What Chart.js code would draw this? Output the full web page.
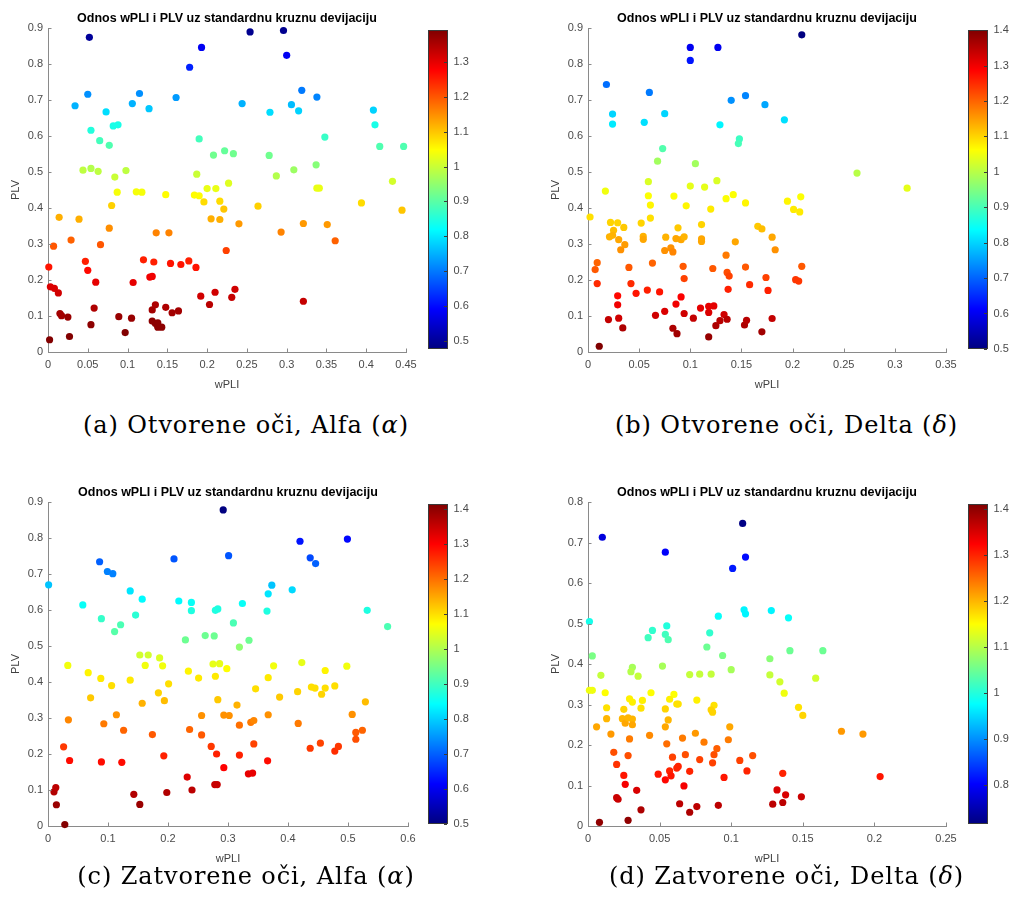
<!DOCTYPE html>
<html><head><meta charset="utf-8">
<script src="https://cdn.jsdelivr.net/npm/chart.js"></script>
<style>
html,body{margin:0;padding:0;background:#fff;}
body{width:1009px;height:911px;position:relative;overflow:hidden;}
canvas{position:absolute;}
.cap{position:absolute;font-family:"DejaVu Serif",serif;font-size:24px;line-height:24px;letter-spacing:0.9px;color:#000;white-space:nowrap;transform:translateX(-50%);}
.cap i{font-style:italic;}
</style></head><body>
<script>
// ---------- data ----------
const TITLE = 'Odnos wPLI i PLV uz standardnu kruznu devijaciju';
const X_LABEL = 'wPLI';
const Y_LABEL = 'PLV';
const captions = ['(a) Otvorene oči, Alfa (<i>α</i>)', '(b) Otvorene oči, Delta (<i>δ</i>)',
                  '(c) Zatvorene oči, Alfa (<i>α</i>)', '(d) Zatvorene oči, Delta (<i>δ</i>)'];
const xMaxs = [0.45, 0.35, 0.6, 0.25];
const xSteps = [0.05, 0.05, 0.1, 0.05];
const yMaxs = [0.9, 0.9, 0.9, 0.8];
const cMins = [0.476, 0.5, 0.5, 0.716];
const cMaxs = [1.392, 1.4, 1.414, 1.411];

// (a) Otvorene oci, Alfa
const aX = [0.052,0.193,0.178,0.050,0.034,0.106,0.115,0.127,0.161,0.073,
0.054,0.082,0.088,0.065,0.077,0.190,0.208,0.222,0.233,0.044,
0.054,0.063,0.084,0.098,0.187,0.227,0.087,0.111,0.118,0.148,
0.184,0.190,0.200,0.211,0.196,0.216,0.221,0.080,0.014,0.039,
0.205,0.216,0.240,0.077,0.136,0.152,0.007,0.029,0.066,0.224,
0.001,0.047,0.050,0.120,0.133,0.154,0.167,0.177,0.186,0.128,
0.131,0.107,0.060,0.003,0.008,0.013,0.192,0.210,0.203,0.231,
0.235,0.015,0.017,0.025,0.058,0.054,0.027,0.002,0.089,0.105,
0.097,0.131,0.135,0.131,0.135,0.138,0.143,0.138,0.148,0.156,
0.164,0.254,0.296,0.300,0.319,0.338,0.244,0.279,0.306,0.315,
0.409,0.411,0.348,0.417,0.447,0.278,0.337,0.309,0.287,0.433,
0.338,0.341,0.264,0.394,0.445,0.321,0.351,0.293,0.361,0.321];
const aY = [0.874,0.846,0.791,0.716,0.684,0.690,0.718,0.676,0.707,0.667,
0.616,0.628,0.631,0.587,0.574,0.592,0.547,0.559,0.551,0.505,
0.510,0.502,0.486,0.504,0.494,0.469,0.444,0.445,0.444,0.437,
0.436,0.434,0.454,0.454,0.417,0.419,0.397,0.407,0.374,0.369,
0.370,0.368,0.356,0.344,0.331,0.331,0.294,0.311,0.298,0.282,
0.236,0.252,0.227,0.256,0.250,0.246,0.243,0.253,0.235,0.208,
0.210,0.193,0.194,0.181,0.177,0.164,0.155,0.166,0.132,0.152,
0.174,0.107,0.101,0.097,0.122,0.076,0.043,0.034,0.098,0.094,
0.054,0.117,0.131,0.086,0.079,0.069,0.069,0.081,0.124,0.109,
0.114,0.889,0.893,0.824,0.727,0.708,0.690,0.666,0.687,0.670,
0.672,0.631,0.597,0.571,0.571,0.546,0.520,0.506,0.489,0.474,
0.455,0.455,0.405,0.414,0.394,0.357,0.354,0.333,0.309,0.141];
const aC = [0.50,0.58,0.62,0.72,0.75,0.75,0.72,0.77,0.73,0.79,
0.85,0.84,0.84,0.88,0.89,0.88,0.92,0.91,0.92,0.99,
0.98,0.99,1.00,0.99,1.00,1.02,1.04,1.04,1.04,1.05,
1.05,1.05,1.03,1.03,1.08,1.08,1.10,1.09,1.12,1.12,
1.12,1.12,1.14,1.15,1.16,1.16,1.20,1.19,1.20,1.22,
1.26,1.25,1.27,1.25,1.25,1.26,1.26,1.25,1.26,1.29,
1.29,1.30,1.30,1.31,1.31,1.32,1.32,1.32,1.34,1.33,
1.32,1.36,1.36,1.37,1.35,1.38,1.39,1.39,1.37,1.37,
1.39,1.36,1.35,1.38,1.38,1.38,1.38,1.38,1.35,1.36,
1.36,0.49,0.49,0.58,0.70,0.71,0.75,0.79,0.76,0.78,
0.78,0.84,0.87,0.89,0.89,0.92,0.94,0.96,0.98,1.01,
1.03,1.03,1.09,1.08,1.10,1.14,1.14,1.16,1.19,1.33];

// (b) Otvorene oci, Delta
const bX = [0.100,0.127,0.100,0.018,0.060,0.140,0.154,0.173,0.024,0.024,
0.055,0.075,0.129,0.073,0.148,0.147,0.068,0.105,0.017,0.059,
0.059,0.061,0.061,0.084,0.100,0.096,0.114,0.126,0.120,0.135,
0.142,0.154,0.002,0.022,0.029,0.021,0.025,0.024,0.030,0.035,
0.032,0.036,0.052,0.054,0.054,0.076,0.075,0.081,0.083,0.086,
0.088,0.091,0.094,0.111,0.111,0.111,0.144,0.166,0.170,0.180,
0.183,0.009,0.007,0.009,0.040,0.042,0.047,0.063,0.058,0.070,
0.093,0.094,0.122,0.135,0.136,0.138,0.137,0.154,0.158,0.174,
0.176,0.029,0.029,0.020,0.030,0.034,0.011,0.066,0.075,0.086,
0.091,0.083,0.087,0.094,0.103,0.110,0.118,0.118,0.123,0.125,
0.129,0.133,0.136,0.118,0.153,0.155,0.170,0.180,0.209,0.192,
0.263,0.312,0.195,0.208,0.201,0.207,0.209,0.203,0.206];
const bY = [0.846,0.846,0.810,0.743,0.721,0.699,0.712,0.687,0.661,0.633,
0.638,0.662,0.631,0.565,0.592,0.579,0.530,0.523,0.447,0.473,
0.434,0.408,0.372,0.433,0.461,0.406,0.458,0.476,0.397,0.426,
0.437,0.414,0.375,0.360,0.359,0.320,0.338,0.324,0.312,0.346,
0.284,0.298,0.358,0.321,0.313,0.319,0.282,0.289,0.278,0.315,
0.345,0.312,0.320,0.354,0.314,0.307,0.306,0.349,0.342,0.319,
0.284,0.248,0.229,0.190,0.235,0.190,0.163,0.247,0.172,0.167,
0.238,0.204,0.232,0.269,0.221,0.211,0.174,0.236,0.187,0.207,
0.171,0.156,0.131,0.090,0.094,0.067,0.016,0.102,0.113,0.133,
0.153,0.066,0.051,0.107,0.094,0.122,0.110,0.127,0.128,0.073,
0.087,0.104,0.091,0.042,0.075,0.088,0.056,0.093,0.881,0.645,
0.497,0.455,0.419,0.431,0.396,0.389,0.238,0.201,0.197];
const bC = [0.60,0.60,0.63,0.71,0.72,0.74,0.73,0.76,0.80,0.82,
0.81,0.80,0.83,0.91,0.89,0.90,0.98,0.98,1.05,1.03,
1.06,1.07,1.09,1.06,1.04,1.07,1.04,1.03,1.08,1.06,
1.06,1.07,1.09,1.10,1.10,1.13,1.12,1.13,1.14,1.11,
1.16,1.15,1.10,1.13,1.14,1.13,1.16,1.16,1.17,1.14,
1.11,1.14,1.13,1.10,1.14,1.14,1.14,1.11,1.12,1.14,
1.16,1.20,1.21,1.25,1.21,1.25,1.27,1.20,1.26,1.27,
1.21,1.23,1.21,1.18,1.22,1.23,1.26,1.21,1.25,1.23,
1.26,1.28,1.30,1.34,1.33,1.36,1.40,1.33,1.32,1.30,
1.29,1.36,1.37,1.33,1.34,1.31,1.32,1.31,1.31,1.36,
1.35,1.33,1.35,1.38,1.36,1.35,1.37,1.34,0.50,0.81,
1.00,1.04,1.07,1.06,1.08,1.08,1.21,1.24,1.24];

// (c) Zatvorene oci, Alfa
const cX = [0.292,0.301,0.210,0.086,0.099,0.108,0.001,0.137,0.157,0.058,
0.218,0.239,0.239,0.279,0.283,0.089,0.146,0.121,0.111,0.229,
0.262,0.277,0.309,0.319,0.033,0.067,0.088,0.106,0.137,0.153,
0.167,0.162,0.186,0.191,0.201,0.234,0.251,0.275,0.279,0.286,
0.298,0.071,0.157,0.184,0.194,0.283,0.034,0.093,0.114,0.126,
0.174,0.236,0.256,0.256,0.293,0.302,0.315,0.319,0.026,0.036,
0.089,0.123,0.193,0.272,0.281,0.319,0.293,0.232,0.240,0.278,
0.282,0.198,0.143,0.153,0.010,0.013,0.014,0.028,0.499,0.420,
0.437,0.446,0.373,0.367,0.407,0.324,0.365,0.532,0.566,0.335,
0.376,0.423,0.462,0.498,0.367,0.346,0.416,0.439,0.445,0.462,
0.456,0.478,0.386,0.529,0.367,0.338,0.343,0.417,0.507,0.524,
0.513,0.513,0.343,0.366,0.437,0.454,0.478,0.484,0.334,0.341];
const cY = [0.878,0.751,0.742,0.734,0.707,0.701,0.670,0.653,0.630,0.614,
0.625,0.621,0.598,0.599,0.603,0.576,0.586,0.559,0.540,0.517,
0.529,0.528,0.564,0.497,0.446,0.426,0.410,0.390,0.405,0.475,
0.475,0.446,0.467,0.445,0.395,0.430,0.411,0.450,0.416,0.451,
0.437,0.356,0.341,0.370,0.348,0.351,0.295,0.284,0.309,0.266,
0.254,0.268,0.307,0.253,0.308,0.307,0.336,0.280,0.220,0.182,
0.178,0.177,0.195,0.221,0.200,0.197,0.162,0.136,0.100,0.115,
0.115,0.093,0.088,0.060,0.095,0.107,0.059,0.004,0.797,0.791,
0.745,0.729,0.669,0.645,0.656,0.618,0.597,0.599,0.554,0.516,
0.445,0.454,0.432,0.444,0.412,0.381,0.373,0.386,0.383,0.383,
0.366,0.389,0.358,0.345,0.309,0.288,0.293,0.285,0.310,0.266,
0.260,0.241,0.228,0.181,0.216,0.230,0.208,0.221,0.145,0.147];
const cC = [0.50,0.69,0.69,0.70,0.73,0.73,0.79,0.82,0.84,0.85,
0.84,0.85,0.87,0.87,0.87,0.89,0.88,0.91,0.92,0.94,
0.94,0.94,0.91,0.97,1.06,1.08,1.09,1.10,1.09,1.03,
1.03,1.06,1.04,1.06,1.10,1.08,1.09,1.05,1.09,1.05,
1.07,1.12,1.14,1.11,1.13,1.12,1.18,1.19,1.17,1.21,
1.22,1.21,1.17,1.22,1.17,1.17,1.14,1.20,1.25,1.29,
1.29,1.29,1.27,1.25,1.27,1.27,1.30,1.33,1.36,1.35,
1.35,1.37,1.37,1.39,1.37,1.36,1.39,1.41,0.62,0.63,
0.68,0.70,0.79,0.82,0.81,0.85,0.87,0.87,0.91,0.94,
1.06,1.05,1.08,1.06,1.09,1.10,1.11,1.10,1.10,1.10,
1.11,1.10,1.12,1.13,1.17,1.19,1.18,1.19,1.17,1.21,
1.22,1.23,1.24,1.29,1.25,1.24,1.26,1.25,1.32,1.32];

// (d) Zatvorene oci, Delta
const dX = [0.108,0.010,0.054,0.110,0.101,0.001,0.109,0.110,0.128,0.091,
0.045,0.042,0.055,0.054,0.056,0.085,0.083,0.003,0.094,0.100,
0.052,0.031,0.030,0.035,0.009,0.071,0.078,0.086,0.127,0.127,
0.001,0.003,0.012,0.044,0.060,0.057,0.013,0.029,0.031,0.038,
0.037,0.062,0.063,0.076,0.088,0.086,0.087,0.013,0.025,0.024,
0.026,0.028,0.031,0.031,0.006,0.054,0.056,0.054,0.099,0.016,
0.029,0.043,0.066,0.075,0.081,0.098,0.018,0.028,0.055,0.059,
0.068,0.078,0.088,0.090,0.087,0.106,0.115,0.111,0.020,0.025,
0.026,0.049,0.054,0.057,0.058,0.062,0.063,0.071,0.067,0.095,
0.020,0.021,0.034,0.037,0.028,0.008,0.064,0.071,0.076,0.091,
0.129,0.132,0.140,0.141,0.164,0.134,0.137,0.159,0.147,0.150,
0.177,0.192,0.136,0.204,0.138,0.136,0.149];
const dY = [0.747,0.713,0.676,0.664,0.636,0.505,0.534,0.524,0.532,0.518,
0.483,0.465,0.494,0.473,0.460,0.477,0.442,0.420,0.421,0.386,
0.395,0.392,0.381,0.370,0.372,0.374,0.375,0.375,0.373,0.413,
0.335,0.335,0.329,0.329,0.325,0.313,0.292,0.314,0.306,0.310,
0.291,0.301,0.301,0.311,0.298,0.287,0.281,0.265,0.288,0.265,
0.254,0.267,0.264,0.250,0.245,0.289,0.262,0.245,0.245,0.227,
0.215,0.224,0.217,0.229,0.207,0.213,0.182,0.174,0.203,0.170,
0.176,0.164,0.176,0.191,0.156,0.162,0.174,0.136,0.152,0.125,
0.103,0.128,0.114,0.136,0.124,0.143,0.147,0.135,0.099,0.120,
0.070,0.066,0.088,0.040,0.014,0.009,0.055,0.034,0.048,0.051,
0.054,0.089,0.514,0.433,0.433,0.356,0.328,0.365,0.293,0.273,
0.234,0.227,0.130,0.122,0.077,0.058,0.072];
const dC = [0.72,0.78,0.80,0.81,0.82,0.99,0.97,0.97,0.97,0.98,
1.01,1.02,1.00,1.02,1.03,1.01,1.05,1.06,1.06,1.09,
1.09,1.09,1.10,1.11,1.11,1.11,1.11,1.11,1.11,1.07,
1.14,1.14,1.15,1.15,1.15,1.16,1.17,1.16,1.16,1.16,
1.17,1.17,1.17,1.16,1.17,1.18,1.18,1.20,1.18,1.20,
1.21,1.20,1.20,1.21,1.21,1.18,1.20,1.21,1.21,1.22,
1.24,1.23,1.24,1.22,1.24,1.24,1.27,1.27,1.25,1.28,
1.27,1.28,1.27,1.26,1.28,1.28,1.27,1.30,1.29,1.31,
1.33,1.31,1.32,1.30,1.31,1.30,1.30,1.30,1.33,1.31,
1.36,1.36,1.35,1.38,1.40,1.40,1.37,1.38,1.37,1.37,
1.37,1.35,0.98,1.05,1.05,1.12,1.14,1.12,1.17,1.18,
1.22,1.22,1.30,1.31,1.35,1.37,1.36];

// ---------- layout / style ----------
const FONT = '"Liberation Sans", Arial, Helvetica, sans-serif';
const TICKC = '#4a4a4a', AXC = '#8a8a8a', LABC = '#404040';
const TSIZE = 12.5;
const panels = [
  {xs:aX, ys:aY, cs:aC, area:[47.7,28.3,405.7,352.3], titleY:19.3, cbar:[427.7,28.3,447.3,351.7], capX:246, capY:413},
  {xs:bX, ys:bY, cs:bC, area:[587.7,28.3,945.7,352.3], titleY:19.3, cbar:[967.7,28.3,987.3,351.7], capX:786.5, capY:413},
  {xs:cX, ys:cY, cs:cC, area:[47.7,502.3,408,826], titleY:493.3, cbar:[427.7,501.7,447.3,826], capX:246, capY:863.5},
  {xs:dX, ys:dY, cs:dC, area:[587.7,502.3,945.7,826], titleY:493.3, cbar:[967.7,501.7,987.3,826], capX:786.5, capY:863.5}
];

function jet(t){
  t = Math.max(0, Math.min(1, t));
  const f = v => Math.round(255 * Math.max(0, Math.min(1, v)));
  return 'rgb(' + f(1.5 - Math.abs(4*t - 3)) + ',' + f(1.5 - Math.abs(4*t - 2)) + ',' + f(1.5 - Math.abs(4*t - 1)) + ')';
}
const fmt = v => String(parseFloat(Number(v).toFixed(4)));

function mkCanvas(l, t, w, h){
  const cv = document.createElement('canvas');
  cv.width = Math.round(w); cv.height = Math.round(h);
  cv.style.left = l + 'px'; cv.style.top = t + 'px';
  cv.style.width = Math.round(w) + 'px'; cv.style.height = Math.round(h) + 'px';
  document.body.appendChild(cv);
  return cv;
}

const innerTicks = {
  id: 'innerTicks',
  afterDraw(chart){
    const {ctx, chartArea: a, scales: {x, y}} = chart;
    ctx.save(); ctx.strokeStyle = AXC; ctx.lineWidth = 1; ctx.beginPath();
    x.ticks.forEach(t => { const px = Math.round(x.getPixelForValue(t.value)) + 0.5; ctx.moveTo(px, a.bottom); ctx.lineTo(px, a.bottom - 3.5); });
    y.ticks.forEach(t => { const py = Math.round(y.getPixelForValue(t.value)) + 0.5; ctx.moveTo(a.left, py); ctx.lineTo(a.left + 3.5, py); });
    ctx.stroke(); ctx.restore();
  }
};

const cbarPlugin = {
  id: 'cbar',
  beforeDraw(chart){
    const {ctx, chartArea: a, scales: {y}} = chart;
    ctx.save();
    for (let py = Math.floor(a.top); py < Math.ceil(a.bottom); py++){
      const v = y.getValueForPixel(py + 0.5);
      ctx.fillStyle = jet((v - y.min) / (y.max - y.min));
      ctx.fillRect(a.left, py, a.right - a.left, 1);
    }
    ctx.strokeStyle = '#3a3a3a'; ctx.lineWidth = 1;
    ctx.strokeRect(Math.round(a.left) + 0.5, Math.round(a.top) + 0.5, Math.round(a.right - a.left) - 1, Math.round(a.bottom - a.top) - 1);
    ctx.beginPath();
    y.ticks.forEach(t => { const py = Math.round(y.getPixelForValue(t.value)) + 0.5; ctx.moveTo(a.right - 1, py); ctx.lineTo(a.right - 4, py); });
    ctx.stroke();
    ctx.restore();
  }
};

panels.forEach((p, i) => {
  const [L, T, R, B] = p.area;
  const cl = L - 48, ct = T - 30, cw = (R - L) + 48 + 18, ch = (B - T) + 30 + 50;
  const cv = mkCanvas(cl, ct, cw, ch);
  const lh = TSIZE * 1.2;
  const tTop = (p.titleY - ct) - lh / 2;
  const tBot = (T - ct) - tTop - lh;
  const pts = p.xs.map((x, k) => ({x: x, y: p.ys[k]}));
  const cols = p.cs.map(c => jet((c - cMins[i]) / (cMaxs[i] - cMins[i])));
  new Chart(cv, {
    type: 'scatter',
    data: {datasets: [{data: pts, backgroundColor: cols, borderWidth: 0, pointRadius: 3.6, pointHoverRadius: 3.6, clip: false}]},
    options: {
      responsive: false, animation: false, devicePixelRatio: 1, events: [],
      layout: {padding: {left: 0, top: 0, right: (cl + cw) - R, bottom: 0}},
      plugins: {
        legend: {display: false}, tooltip: {enabled: false},
        title: {display: true, text: TITLE, fullSize: false, color: '#000',
                font: {family: FONT, size: TSIZE, weight: 'bold', lineHeight: 1.2},
                padding: {top: tTop, bottom: tBot}}
      },
      scales: {
        x: {type: 'linear', min: 0, max: xMaxs[i],
            ticks: {stepSize: xSteps[i], callback: fmt, color: TICKC, font: {family: FONT, size: 11}, padding: 6.5, maxRotation: 0, autoSkip: false},
            grid: {display: false, drawTicks: false}, border: {color: AXC, width: 1},
            title: {display: true, text: X_LABEL, color: LABC, font: {family: FONT, size: 11, lineHeight: 1.2}, padding: {top: 0, bottom: 10.6}},
            afterFit: s => { s.height = (ct + ch) - B; }},
        y: {type: 'linear', min: 0, max: yMaxs[i],
            ticks: {stepSize: 0.1, callback: fmt, color: TICKC, font: {family: FONT, size: 11}, padding: 5, autoSkip: false},
            grid: {display: false, drawTicks: false}, border: {color: AXC, width: 1},
            title: {display: true, text: Y_LABEL, color: LABC, font: {family: FONT, size: 11, lineHeight: 1.2}, padding: {top: 9.4, bottom: 0}},
            afterFit: s => { s.width = L - cl; }}
      }
    },
    plugins: [innerTicks]
  });

  // colorbar
  const [cL, cT, cR, cB] = p.cbar;
  const bl = cL - 4, bt = cT - 10, bw = (cR - cL) + 4 + 30, bh = (cB - cT) + 20;
  const cv2 = mkCanvas(bl, bt, bw, bh);
  new Chart(cv2, {
    type: 'scatter',
    data: {datasets: []},
    options: {
      responsive: false, animation: false, devicePixelRatio: 1, events: [],
      layout: {padding: {left: 4, top: 10, bottom: 10, right: 0}},
      plugins: {legend: {display: false}, tooltip: {enabled: false}},
      scales: {
        x: {display: false, min: 0, max: 1},
        y: {position: 'right', min: cMins[i], max: cMaxs[i],
            ticks: {stepSize: 0.1, includeBounds: false, callback: fmt, color: TICKC, font: {family: FONT, size: 11}, padding: 5.5, autoSkip: false},
            grid: {display: false, drawTicks: false}, border: {display: false},
            afterFit: s => { s.width = 30; }}
      }
    },
    plugins: [cbarPlugin]
  });

  const cap = document.createElement('div');
  cap.className = 'cap';
  cap.style.left = p.capX + 'px';
  cap.style.top = p.capY + 'px';
  cap.innerHTML = captions[i];
  document.body.appendChild(cap);
});
</script>
</body></html>
